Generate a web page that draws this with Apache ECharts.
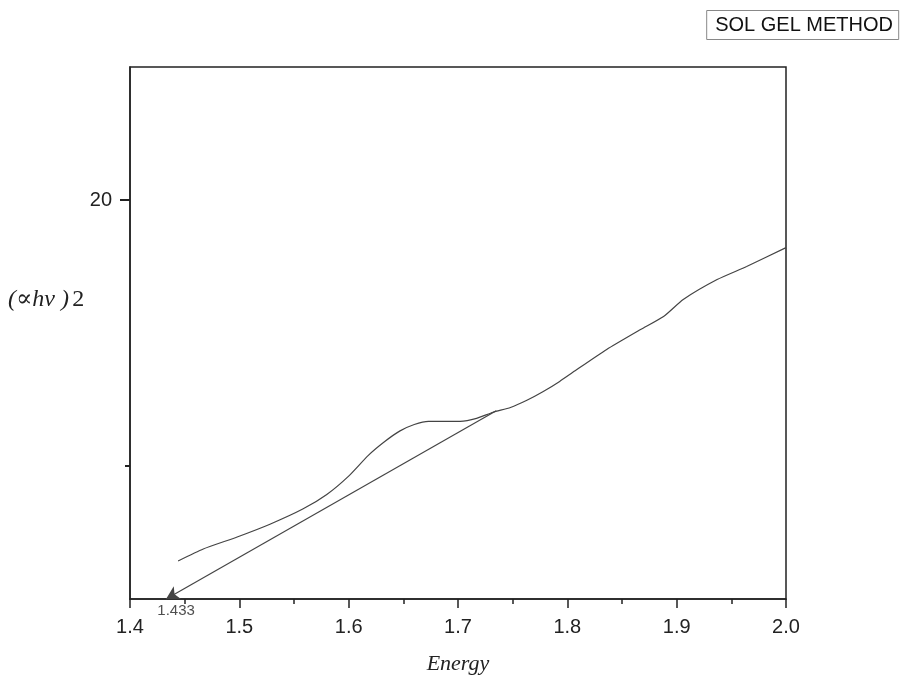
<!DOCTYPE html>
<html>
<head>
<meta charset="utf-8">
<script src="https://cdn.jsdelivr.net/npm/echarts@6/dist/echarts.min.js"></script>
<style>html,body{margin:0;padding:0;background:#fff;}#c{width:901px;height:680px;}</style>
</head>
<body>
<div id="c"></div>
<script>
// Energy (eV) values of the absorption curve
var energy = [1.444, 1.467, 1.498, 1.528, 1.558, 1.580, 1.600, 1.618, 1.633, 1.647, 1.660, 1.673, 1.702, 1.717, 1.732, 1.748, 1.763, 1.778, 1.793, 1.805, 1.836, 1.867, 1.888, 1.906, 1.937, 1.964, 2.000];
// (alpha h nu)^2 values
var absorb = [6.43, 6.88, 7.33, 7.81, 8.38, 8.93, 9.62, 10.40, 10.92, 11.32, 11.56, 11.68, 11.68, 11.79, 12.02, 12.20, 12.47, 12.80, 13.18, 13.52, 14.38, 15.13, 15.62, 16.26, 17.01, 17.50, 18.21];
// tangent line endpoints (extrapolation to band gap)
var tangentX = [1.433, 1.735];
var tangentY = [5.0, 12.08];
var bandGapLabel = '1.433';
var yLabelTicks = [20];
var yMinorTicks = [10];

var curve = energy.map(function (e, i) { return [e, absorb[i]]; });

var chart = echarts.init(document.getElementById('c'));
chart.setOption({
  animation: false,
  backgroundColor: '#fff',
  title: {
    text: 'SOL GEL METHOD',
    right: 2,
    top: 10,
    padding: [5, 6, 5, 9],
    borderColor: '#888',
    borderWidth: 1,
    textStyle: { fontFamily: 'Liberation Sans, Arial, sans-serif', fontSize: 20, fontWeight: 'normal', color: '#111' }
  },
  grid: {
    left: 130, right: 115, top: 67, bottom: 80,
    show: true, borderColor: '#222', borderWidth: 1.5, backgroundColor: 'transparent'
  },
  xAxis: {
    type: 'value',
    min: 1.4, max: 2.0, interval: 0.1,
    name: 'Energy',
    nameLocation: 'middle',
    nameGap: 54,
    nameTextStyle: { fontFamily: 'Liberation Serif, DejaVu Serif, serif', fontStyle: 'italic', fontSize: 22, color: '#222' },
    axisLine: { show: true, lineStyle: { color: '#222', width: 1.5 } },
    axisTick: { show: true, length: 9, lineStyle: { color: '#222', width: 1.5 } },
    minorTick: { show: true, splitNumber: 2, length: 5, lineStyle: { color: '#222', width: 1.5 } },
    splitLine: { show: false },
    axisLabel: {
      margin: 18,
      fontFamily: 'Liberation Sans, Arial, sans-serif', fontSize: 20, color: '#222',
      formatter: function (v) { return v.toFixed(1); }
    }
  },
  yAxis: [{
    type: 'value',
    min: 5, max: 25, interval: 5,
    axisLine: { show: true, lineStyle: { color: '#222', width: 1.5 } },
    axisTick: { show: true, length: 10, customValues: yLabelTicks, lineStyle: { color: '#222', width: 2 } },
    splitLine: { show: false },
    axisLabel: {
      customValues: yLabelTicks,
      margin: 18,
      fontFamily: 'Liberation Sans, Arial, sans-serif', fontSize: 20, color: '#222'
    }
  }, {
    type: 'value',
    position: 'left',
    min: 5, max: 25, interval: 5,
    axisLine: { show: false },
    axisTick: { show: true, length: 5, customValues: yMinorTicks, lineStyle: { color: '#222', width: 2 } },
    axisLabel: { show: false },
    splitLine: { show: false }
  }],
  graphic: [{
    type: 'text',
    left: 8,
    top: 288,
    style: {
      text: '{i|(∝hν )} {n|2}',
      rich: {
        i: { fontFamily: 'Liberation Serif, DejaVu Serif, serif', fontStyle: 'italic', fontSize: 24, fill: '#222' },
        n: { fontFamily: 'Liberation Serif, DejaVu Serif, serif', fontSize: 24, fill: '#222' }
      }
    }
  }],
  series: [{
    type: 'line',
    data: curve,
    showSymbol: false,
    smooth: 0.2,
    lineStyle: { color: '#444', width: 1.2 },
    markLine: {
      silent: true,
      symbol: ['arrow', 'none'],
      symbolSize: [11, 13],
      label: { show: false },
      lineStyle: { color: '#444', width: 1.2, type: 'solid' },
      itemStyle: { color: '#000' },
      data: [[{ coord: [tangentX[0], tangentY[0]] }, { coord: [tangentX[1], tangentY[1]] }]]
    }
  }, {
    type: 'scatter',
    data: [[tangentX[0], tangentY[0]]],
    symbolSize: 0,
    silent: true,
    label: {
      show: true,
      position: 'bottom',
      distance: 4,
      offset: [10, 0],
      formatter: bandGapLabel,
      fontFamily: 'Liberation Sans, Arial, sans-serif',
      fontSize: 15,
      color: '#222'
    }
  }]
});
</script>
</body>
</html>
